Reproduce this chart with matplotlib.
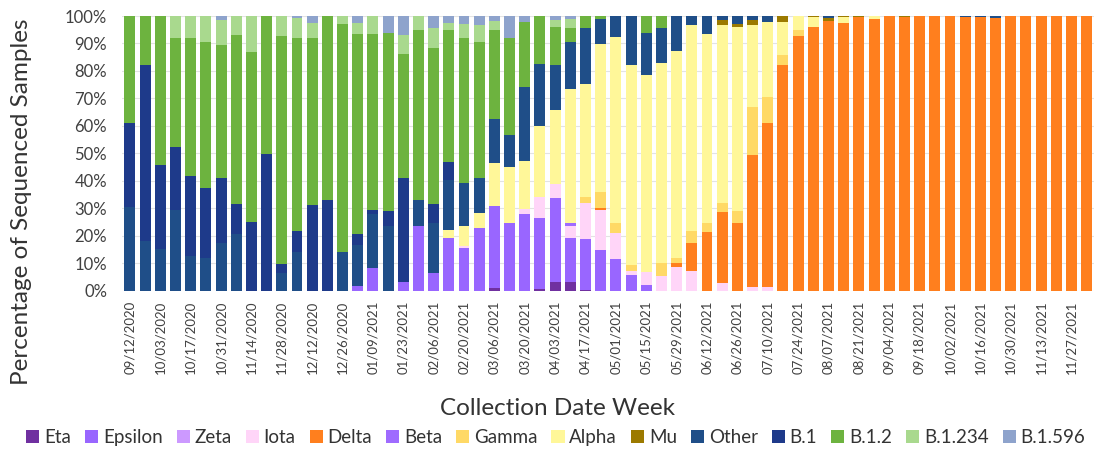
import matplotlib
matplotlib.use("Agg")
import matplotlib.pyplot as plt
import numpy as np

plt.rcParams['font.family'] = ['Lato', 'DejaVu Sans']

n_weeks = 64
tick_labels = ["09/12/2020", "10/03/2020", "10/17/2020", "10/31/2020", "11/14/2020", "11/28/2020",
               "12/12/2020", "12/26/2020", "01/09/2021", "01/23/2021", "02/06/2021", "02/20/2021",
               "03/06/2021", "03/20/2021", "04/03/2021", "04/17/2021", "05/01/2021", "05/15/2021",
               "05/29/2021", "06/12/2021", "06/26/2021", "07/10/2021", "07/24/2021", "08/07/2021",
               "08/21/2021", "09/04/2021", "09/18/2021", "10/02/2021", "10/16/2021", "10/30/2021",
               "11/13/2021", "11/27/2021"]

eta = [0, 0, 0, 0, 0, 0, 0, 0, 0, 0, 0, 0, 0, 0, 0, 0,
       0, 0, 0, 0, 0, 0, 0, 0, 1, 0, 0, 0.6, 3.4, 3.4, 0.5, 0,
       0, 0, 0, 0, 0, 0, 0, 0, 0, 0, 0, 0, 0, 0, 0, 0,
       0, 0, 0, 0, 0, 0, 0, 0, 0, 0, 0, 0, 0, 0, 0, 0]
epsilon = [0, 0, 0, 0, 0, 0, 0, 0, 0, 0, 0, 0, 0, 0, 0, 1.9,
           8.5, 0, 3.4, 23.6, 6.4, 19.4, 15.5, 22.8, 29.9, 24.8, 28, 25.8, 30.3, 15.8, 18.3, 14.9,
           11.5, 5.8, 2.2, 0, 0, 0, 0, 0, 0, 0, 0, 0, 0, 0, 0, 0,
           0, 0, 0, 0, 0, 0, 0, 0, 0, 0, 0, 0, 0, 0, 0, 0]
zeta = [0, 0, 0, 0, 0, 0, 0, 0, 0, 0, 0, 0, 0, 0, 0, 0,
        0, 0, 0, 0, 0, 0, 0, 0, 0, 0, 0, 0, 0, 0, 0, 0,
        0, 0, 0, 0, 0, 0, 0, 0, 0, 0, 0, 0, 0, 0, 0, 0,
        0, 0, 0, 0, 0, 0, 0, 0, 0, 0, 0, 0, 0, 0, 0, 0]
iota = [0, 0, 0, 0, 0, 0, 0, 0, 0, 0, 0, 0, 0, 0, 0, 0,
        0, 0, 0, 0, 0, 0, 1, 0, 0, 0, 1.7, 7.9, 5.2, 4.4, 13.3, 14.6,
        9.7, 1.5, 4.8, 5.6, 8.8, 7.3, 0, 2.8, 0, 1.3, 1.3, 0, 0, 0, 0, 0,
        0, 0, 0, 0, 0, 0, 0, 0, 0, 0, 0, 0, 0, 0, 0, 0]
delta = [0, 0, 0, 0, 0, 0, 0, 0, 0, 0, 0, 0, 0, 0, 0, 0,
         0, 0, 0, 0, 0, 0, 0, 0, 0, 0, 0, 0, 0, 0, 0, 0.6,
         0, 0, 0, 0, 1.5, 10.3, 21.6, 25.8, 24.8, 48.2, 59.9, 82.2, 92.7, 96.1, 98.3, 97.5,
         99.7, 98.8, 100, 99.6, 100, 100, 100, 99.6, 99.6, 99.2, 100, 100, 100, 100, 100, 100]
beta = [0, 0, 0, 0, 0, 0, 0, 0, 0, 0, 0, 0, 0, 0, 0, 0,
        0, 0, 0, 0, 0, 0, 0, 0, 0, 0, 0, 0, 0, 1.0, 0, 0,
        0, 0, 0, 0, 0, 0, 0, 0, 0, 0, 0, 0, 0, 0, 0, 0,
        0, 0, 0, 0, 0, 0, 0, 0, 0, 0, 0, 0, 0, 0, 0, 0]
gamma = [0, 0, 0, 0, 0, 0, 0, 0, 0, 0, 0, 0, 0, 0, 0, 0,
         0, 0, 0, 0, 0, 0, 0, 0, 0, 0, 0, 0, 0, 0, 2.2, 6,
         3.4, 2.2, 0, 4.7, 1.6, 4.3, 3, 3.3, 4.4, 17.3, 9.2, 3.6, 2.2, 0, 0, 0,
         0, 0, 0, 0, 0, 0, 0, 0, 0, 0, 0, 0, 0, 0, 0, 0]
alpha = [0, 0, 0, 0, 0, 0, 0, 0, 0, 0, 0, 0, 0, 0, 0, 0,
         0, 0, 0, 0, 0, 2.8, 7.1, 5.4, 15.5, 20.2, 17.7, 25.7, 26.9, 48.7, 41, 53.6,
         67.9, 72.7, 71.5, 72.7, 75.5, 74.8, 68.9, 64.8, 66.7, 29.9, 27.5, 12.1, 5.1, 3.4, 0, 2,
         0, 1.2, 0, 0, 0, 0, 0, 0, 0, 0, 0, 0, 0, 0, 0, 0]
mu = [0, 0, 0, 0, 0, 0, 0, 0, 0, 0, 0, 0, 0, 0, 0, 0,
      0, 0, 0, 0, 0, 0, 0, 0, 0, 0, 0, 0, 0, 0, 0, 0,
      0, 0, 0, 0, 0, 0, 0, 1.8, 1.2, 1.8, 0, 2.1, 0, 0.5, 0.8, 0.5,
      0.3, 0, 0, 0.4, 0, 0, 0, 0, 0, 0, 0, 0, 0, 0, 0, 0]
other = [30.7, 18.2, 15.4, 29.5, 12.7, 11.9, 17.6, 20.6, 0, 0, 6.4, 14.3, 0, 0, 14.1, 14.8,
         19.5, 23.6, 0, 9.5, 18.2, 18, 15.8, 12.8, 16, 11.7, 26.7, 22.5, 16.4, 17.4, 20.2, 9.1,
         7.5, 17.8, 15.2, 12.5, 12.6, 3.3, 6.5, 1.5, 2.9, 1.5, 2.1, 0, 0, 0, 0.9, 0,
         0, 0, 0, 0, 0, 0, 0, 0.4, 0.4, 0.8, 0, 0, 0, 0, 0, 0]
b1 = [30.5, 64, 30.3, 22.7, 29.1, 25.4, 23.4, 10.9, 25, 49.7, 3.4, 7.5, 31.3, 33.1, 0, 4,
      1.5, 5.5, 37.6, 0, 6.9, 6.8, 0, 0, 0, 0, 0, 0, 0, 0, 0, 0,
      0, 0, 0, 0, 0, 0, 0, 0, 0, 0, 0, 0, 0, 0, 0, 0,
      0, 0, 0, 0, 0, 0, 0, 0, 0, 0, 0, 0, 0, 0, 0, 0]
b12 = [38.8, 17.8, 54.3, 39.7, 50.1, 53.1, 48.5, 61.6, 62, 50.3, 82.9, 70.1, 60.6, 66.9, 83, 72.8,
       64, 64.8, 45, 61.8, 56.7, 47.9, 52.5, 49.7, 32.5, 35.2, 23.8, 17.5, 13.9, 4.8, 4.5, 1.2,
       0, 0, 6.3, 4.5, 0, 0, 0, 0, 0, 0, 0, 0, 0, 0, 0, 0,
       0, 0, 0, 0, 0, 0, 0, 0, 0, 0, 0, 0, 0, 0, 0, 0]
b1234 = [0, 0, 0, 8.1, 8.1, 9.6, 9.0, 6.9, 13, 0, 7.3, 7.3, 5.7, 0, 2.9, 3.8,
         6.5, 0, 7.1, 5.1, 7.3, 2.4, 5.2, 6, 3.4, 0, 0, 0, 2.4, 3.3, 0, 0,
         0, 0, 0, 0, 0, 0, 0, 0, 0, 0, 0, 0, 0, 0, 0, 0,
         0, 0, 0, 0, 0, 0, 0, 0, 0, 0, 0, 0, 0, 0, 0, 0]
b1596 = [0, 0, 0, 0, 0, 0, 1.5, 0, 0, 0, 0, 0.8, 2.4, 0, 0, 2.7,
         0, 6.1, 6.9, 0, 4.5, 2.7, 2.9, 3.3, 1.7, 8.1, 2.1, 0, 1.5, 1.2, 0, 0,
         0, 0, 0, 0, 0, 0, 0, 0, 0, 0, 0, 0, 0, 0, 0, 0,
         0, 0, 0, 0, 0, 0, 0, 0, 0, 0, 0, 0, 0, 0, 0, 0]

series_names = ["Eta", "Epsilon", "Zeta", "Iota", "Delta", "Beta", "Gamma", "Alpha", "Mu",
                "Other", "B.1", "B.1.2", "B.1.234", "B.1.596"]
series_values = [eta, epsilon, zeta, iota, delta, beta, gamma, alpha, mu, other, b1, b12, b1234, b1596]
colors = ["#7030A0", "#9966FF", "#CC99FF", "#FFD5F8", "#FF7F1E", "#9F6BFF", "#FFD966", "#FFF799",
          "#9C7A00", "#1F4E88", "#1E3A8A", "#6DB33F", "#A9D98E", "#8EA3CC"]

data = np.array(series_values, dtype=float)
data = data / data.sum(axis=0) * 100.0

fig = plt.figure(figsize=(11.07, 4.51), dpi=100)
ax = fig.add_axes([0.1105, 0.355, 0.878, 0.6095])

x = np.arange(n_weeks)
bottom = np.zeros(n_weeks)
handles = []
for name, vals, col in zip(series_names, data, colors):
    h = ax.bar(x, vals, bottom=bottom, width=0.72, color=col, label=name, zorder=3, linewidth=0)
    handles.append(h)
    bottom += vals

ax.set_xlim(-0.5, n_weeks - 0.5)
ax.set_ylim(0, 100)
ax.set_yticks(np.arange(0, 101, 10))
ax.set_yticklabels([f"{v}%" for v in range(0, 101, 10)], fontsize=12)
ax.set_xticks(np.arange(0, n_weeks, 2))
ax.set_xticklabels(tick_labels, rotation=90, fontsize=9.5)
ax.tick_params(axis='both', length=0, colors="#404040")
ax.tick_params(axis='y', pad=11)
ax.tick_params(axis='x', pad=7)
ax.grid(axis='y', color="#E3E3E3", linewidth=0.8, zorder=0)
for s in ax.spines.values():
    s.set_visible(False)

fig.text(0.019, 0.552, "Percentage of Sequenced Samples", rotation=90, ha='center', va='center',
         fontsize=17.5, color="#333333")
fig.text(0.504, 0.095, "Collection Date Week", ha='center', va='center', fontsize=17.5, color="#333333")

fig.legend(handles, series_names, loc='center', bbox_to_anchor=(0.502, 0.03), ncol=14, frameon=False,
           fontsize=13.5, handlelength=0.7, handleheight=0.7, handletextpad=0.25, columnspacing=0.75,
           labelcolor="#333333")

fig.savefig("out.png", dpi=100)
